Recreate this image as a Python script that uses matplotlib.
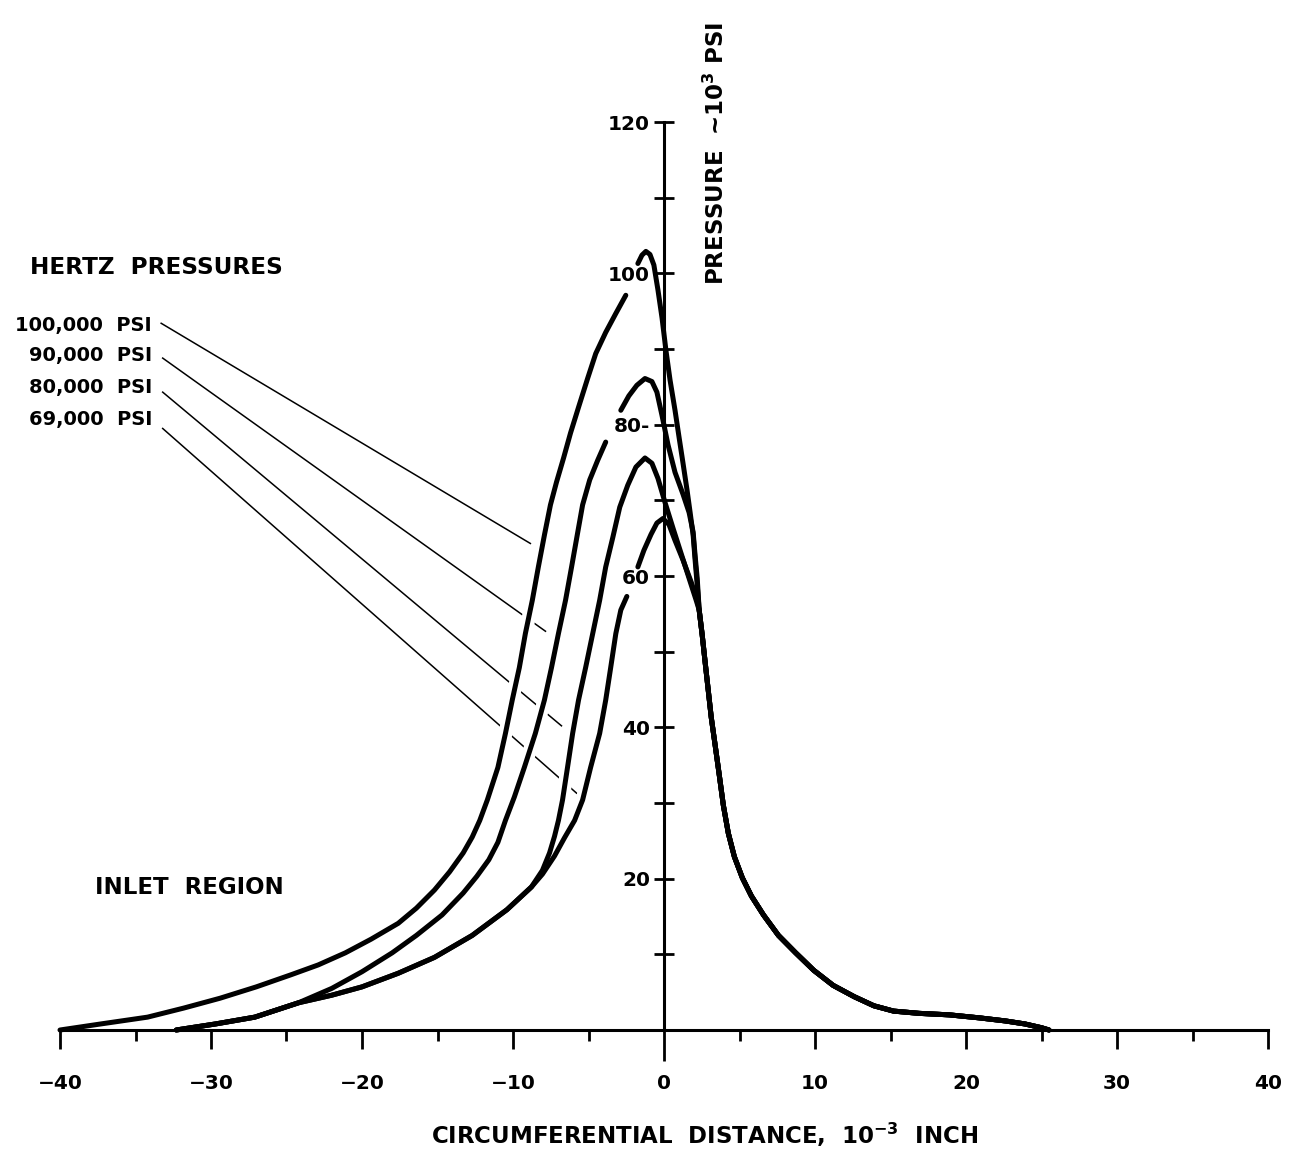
import matplotlib.pyplot as plt
from matplotlib.ticker import FixedLocator

plt.rcParams['font.family'] = ['DejaVu Sans']
plt.rcParams['font.weight'] = 'bold'
plt.rcParams['mathtext.default'] = 'regular'

# Courbes de pression (x en 10^-3 inch, y en 10^3 psi)
# 100 000 psi : montee puis pic (coupure entre les deux)
c100_gauche_x = [-40.0, -37.3, -34.2, -31.8, -29.4, -27.0, -24.7, -22.9, -21.1, -19.4, -17.6, -16.4,
                 -15.2, -14.2, -13.3, -12.7, -12.2, -11.7, -11.0, -10.5, -10.05, -9.58, -9.18, -8.72,
                 -8.32, -7.92, -7.52, -7.12, -6.65, -6.19, -5.66, -5.06, -4.52, -3.86, -3.19, -2.53]
c100_gauche_y = [0, 0.8, 1.7, 2.9, 4.2, 5.7, 7.3, 8.6, 10.2, 12.0, 14.1, 16.1,
                 18.5, 20.9, 23.4, 25.5, 27.7, 30.4, 34.7, 39.2, 43.6, 47.9, 52.4, 56.8,
                 61.2, 65.4, 69.4, 72.4, 75.6, 78.9, 82.3, 86.1, 89.4, 92.2, 94.7, 97.1]
c100_pic_x = [-1.73, -1.46, -1.20, -0.93, -0.67, -0.40, -0.13, 0.13, 0.40, 0.73, 1.0, 1.26, 1.53,
              1.73, 1.93, 2.06, 2.2]
c100_pic_y = [101.3, 102.4, 102.9, 102.5, 101.1, 97.8, 94.1, 89.8, 85.9, 81.9, 78.3, 74.9, 71.3,
              68.4, 65.4, 62.1, 58.8]

# 90 000 psi
c90_gauche_x = [-32.3, -29.7, -27.1, -24.2, -22.0, -20.0, -18.0, -16.4, -14.7, -13.3, -12.4, -11.6,
                -11.0, -10.5, -9.91, -9.25, -8.52, -7.92, -7.45, -6.99, -6.52, -6.12, -5.72, -5.39,
                -4.92, -4.39, -3.86]
c90_gauche_y = [0, 0.8, 1.7, 3.6, 5.5, 7.7, 10.2, 12.5, 15.2, 18.1, 20.3, 22.5,
                24.8, 27.7, 30.8, 34.7, 39.2, 43.6, 47.9, 52.4, 56.8, 61.2, 65.7, 69.4,
                72.7, 75.3, 77.7]
c90_pic_x = [-2.86, -2.33, -1.80, -1.26, -0.80, -0.47, -0.13, 0.27, 0.73, 1.26, 1.66, 1.93, 2.06, 2.2]
c90_pic_y = [81.9, 83.8, 85.2, 86.1, 85.7, 84.3, 81.2, 77.3, 73.7, 70.8, 68.4, 65.8, 62.7, 59.7]

# 80 000 psi (trace continu)
c80_x = [-32.3, -29.7, -27.1, -24.2, -22.0, -20.0, -17.6, -15.2, -12.7, -10.4, -8.78,
         -8.05, -7.58, -7.25, -6.99, -6.72, -6.39, -6.05, -5.66, -5.19, -4.72, -4.26, -3.86,
         -3.39, -2.93, -2.40, -1.86, -1.26, -0.80, -0.40, 0.07, 0.60, 1.13, 1.66, 2.13]
c80_y = [0, 0.8, 1.7, 3.6, 4.6, 5.7, 7.5, 9.6, 12.5, 15.9, 18.9,
         21.1, 23.4, 25.6, 27.7, 30.4, 34.7, 39.2, 43.6, 47.9, 52.4, 56.8, 61.2,
         65.1, 69.1, 72.0, 74.4, 75.6, 74.9, 72.9, 69.7, 66.3, 63.0, 59.7, 56.8]

# 69 000 psi
c69_gauche_x = [-32.3, -29.7, -27.1, -24.2, -22.0, -20.0, -17.6, -15.2, -12.7, -10.4, -8.78,
                -8.05, -7.25, -6.59, -5.92, -5.39, -4.86, -4.26, -3.86, -3.53, -3.19, -2.86, -2.46]
c69_gauche_y = [0, 0.8, 1.7, 3.6, 4.6, 5.7, 7.5, 9.6, 12.5, 15.9, 18.9,
                20.6, 23.0, 25.4, 27.7, 30.4, 34.7, 39.2, 43.6, 47.9, 52.4, 55.5, 57.3]
c69_pic_x = [-1.73, -1.33, -0.86, -0.47, -0.07, 0.33, 0.73, 1.26, 1.80, 2.20]
c69_pic_y = [61.2, 63.4, 65.5, 67.0, 67.6, 66.8, 64.7, 62.1, 59.2, 56.8]

# sortie commune a toutes les courbes
queue_x = [2.33, 2.53, 2.73, 2.93, 3.13, 3.39, 3.66, 3.93, 4.26, 4.66, 5.19, 5.79, 6.59, 7.58,
           8.72, 9.91, 11.2, 12.6, 13.9, 15.2, 16.9, 18.9, 20.9, 22.6, 23.9, 25.0, 25.5]
queue_y = [55.5, 52.2, 48.5, 44.9, 41.3, 37.6, 33.7, 29.7, 26.0, 22.9, 20.1, 17.7, 15.2, 12.5,
           10.2, 7.9, 5.9, 4.4, 3.2, 2.5, 2.2, 2.0, 1.6, 1.2, 0.8, 0.3, 0.0]

# etiquettes + traits de rappel
etiquettes = ["100,000  PSI", "90,000  PSI", "80,000  PSI", "69,000  PSI"]
rappel_debut_x = [-33.3, -33.2, -33.2, -33.2]
rappel_debut_y = [93.4, 88.8, 84.3, 79.5]
rappel_fin_x = [-8.85, -7.85, -6.79, -5.79]
rappel_fin_y = [64.3, 52.7, 40.2, 31.3]

x_ticks = [-40, -30, -20, -10, 0, 10, 20, 30, 40]
x_mineurs = [-35, -25, -15, -5, 5, 15, 25, 35]
y_ticks = [20, 40, 60, 80, 100, 120]
y_labels = ["20", "40", "60", "80-", "100", "120"]
y_mineurs = [10, 30, 50, 70, 90, 110]

W, H = 1294, 1153
fig = plt.figure(figsize=(W / 100, H / 100), dpi=100)
ax = fig.add_axes([60 / W, 1 - 1030 / H, 1208 / W, 908 / H])
ax.set_xlim(-40, 40)
ax.set_ylim(0, 120)

ax.spines['top'].set_visible(False)
ax.spines['right'].set_visible(False)
ax.spines['left'].set_position(('data', 0))
ax.spines['left'].set_linewidth(2.2)
ax.spines['bottom'].set_linewidth(2.2)

ax.set_xticks(x_ticks)
ax.set_xticklabels([str(v).replace('-', '\u2212') for v in x_ticks])
ax.xaxis.set_minor_locator(FixedLocator(x_mineurs))
ax.tick_params(axis='x', which='major', direction='out', length=14, width=2, pad=18, labelsize=14.5)
ax.tick_params(axis='x', which='minor', direction='out', length=8, width=2)
for t in ax.xaxis.get_major_ticks():
    if t.get_loc() == 0:
        t.tick1line.set_markersize(22)

ax.set_yticks(y_ticks)
ax.set_yticklabels(y_labels)
ax.yaxis.set_minor_locator(FixedLocator(y_mineurs))
ax.tick_params(axis='y', which='both', direction='inout', length=14, width=2, pad=3, labelsize=14.5)

# traits de rappel
for i in range(4):
    ax.plot([rappel_debut_x[i], rappel_fin_x[i]], [rappel_debut_y[i], rappel_fin_y[i]],
            color='black', lw=1.1, zorder=1, clip_on=False)

segments = [
    (c100_gauche_x, c100_gauche_y),
    (c100_pic_x + queue_x, c100_pic_y + queue_y),
    (c90_gauche_x, c90_gauche_y),
    (c90_pic_x + queue_x, c90_pic_y + queue_y),
    (c80_x + queue_x, c80_y + queue_y),
    (c69_gauche_x, c69_gauche_y),
    (c69_pic_x + queue_x, c69_pic_y + queue_y),
]
for sx, sy in segments:
    # halo blanc pour couper les traits de rappel
    ax.plot(sx, sy, color='white', lw=10, zorder=1.5, solid_capstyle='butt',
            solid_joinstyle='round', clip_on=False)
for sx, sy in segments:
    ax.plot(sx, sy, color='black', lw=3.6, zorder=3, solid_capstyle='round',
            solid_joinstyle='round', clip_on=False)

fig.text(30 / W, 1 - 268 / H, "HERTZ  PRESSURES", fontsize=16.7, ha='left', va='center')
etiq_y = [325, 355, 388, 420]
for i in range(4):
    fig.text(152 / W, 1 - etiq_y[i] / H, etiquettes[i], fontsize=14, ha='right', va='center')
fig.text(95 / W, 1 - 888 / H, "INLET  REGION", fontsize=16.5, ha='left', va='center')

fig.text(716 / W, 1 - 285 / H, "PRESSURE  ~10$^3$ PSI", fontsize=16.5, rotation=90,
         ha='center', va='bottom')
fig.text(705 / W, 1 - 1135 / H, "CIRCUMFERENTIAL  DISTANCE,  10$^{-3}$  INCH", fontsize=16.5,
         ha='center', va='center')

fig.savefig("out.png", dpi=100)
